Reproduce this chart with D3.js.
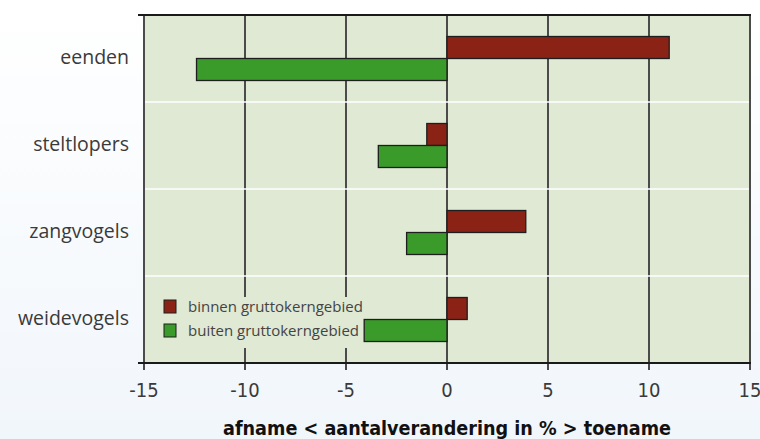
<!DOCTYPE html>
<html>
<head>
<meta charset="utf-8">
<script src="https://cdn.jsdelivr.net/npm/d3@7/dist/d3.min.js"></script>
<style>
  html, body { margin: 0; padding: 0; }
  body { width: 760px; height: 439px; overflow: hidden;
         background: linear-gradient(#ffffff, #f1f6fb); }
  .cat { font-family: "Open Sans", sans-serif; font-size: 19.5px; fill: #3a3a3a; }
  .tick-lbl { font-family: "Liberation Sans Narrow", "DejaVu Sans Condensed", sans-serif;
              font-stretch: condensed; font-size: 20px; fill: #3a3a3a; }
  .title { font-family: "Liberation Sans Narrow", "DejaVu Sans Condensed", sans-serif;
           font-stretch: condensed; font-weight: bold; font-size: 19.6px; fill: #111; }
  .leg { font-family: "Open Sans", sans-serif; font-size: 15px; fill: #444; }
</style>
</head>
<body>
<svg id="chart" width="760" height="439"></svg>
<script>
(function() {

    var categories = ['eenden', 'steltlopers', 'zangvogels', 'weidevogels'];
    var series = ['binnen gruttokerngebied', 'buiten gruttokerngebied'];
    var binnen = [11.0, -1.0, 3.9, 1.0];
    var buiten = [-12.4, -3.4, -2.0, -4.1];
    var ticks = [-15, -10, -5, 0, 5, 10, 15];
    var colors = ['#8a2316', '#3a9a2a'];

    var plot = { left: 144, right: 750, top: 15, bottom: 363 };

    var svg = d3.select('#chart');

    var x = d3.scaleLinear().domain([-15, 15]).range([plot.left, plot.right]);
    var y = d3.scaleBand().domain(categories).range([plot.top, plot.bottom]);
    var half = 22;
    var y1 = d3.scaleBand().domain(series)
        .range([y.bandwidth() / 2 - half, y.bandwidth() / 2 + half]);

    // plot background
    svg.append('rect')
        .attr('x', plot.left).attr('y', plot.top)
        .attr('width', plot.right - plot.left)
        .attr('height', plot.bottom - plot.top)
        .attr('fill', '#dfe9d4');

    // vertical grid lines
    svg.selectAll('.grid')
        .data(ticks)
        .enter()
        .append('line')
        .attr('class', 'grid')
        .attr('x1', function(d) { return x(d); })
        .attr('x2', function(d) { return x(d); })
        .attr('y1', plot.top)
        .attr('y2', plot.bottom + 7)
        .attr('stroke', '#4b4b4b')
        .attr('stroke-width', 2);

    // white band separators
    svg.selectAll('.sep')
        .data(categories.slice(1))
        .enter()
        .append('line')
        .attr('x1', plot.left + 1).attr('x2', plot.right - 1)
        .attr('y1', function(d) { return y(d); })
        .attr('y2', function(d) { return y(d); })
        .attr('stroke', '#ffffff')
        .attr('stroke-width', 1.5);

    // legend box hides grid
    svg.append('rect')
        .attr('x', 150).attr('y', 297)
        .attr('width', 212).attr('height', 51)
        .attr('fill', '#dfe9d4');

    // bars
    var rows = categories.map(function(c, i) {
        return { cat: c, vals: [binnen[i], buiten[i]] };
    });

    var g = svg.selectAll('.row')
        .data(rows)
        .enter()
        .append('g')
        .attr('transform', function(d) { return 'translate(0,' + y(d.cat) + ')'; });

    g.selectAll('rect')
        .data(function(d) {
            return d.vals.map(function(v, j) { return { s: series[j], v: v, j: j }; });
        })
        .enter()
        .append('rect')
        .attr('x', function(d) { return x(Math.min(0, d.v)); })
        .attr('width', function(d) { return Math.abs(x(d.v) - x(0)); })
        .attr('y', function(d) { return y1(d.s); })
        .attr('height', y1.bandwidth())
        .attr('fill', function(d) { return colors[d.j]; })
        .attr('stroke', '#1e1e1e')
        .attr('stroke-width', 1.3);

    // frame lines
    svg.append('line')
        .attr('x1', plot.left - 6).attr('x2', plot.right + 1)
        .attr('y1', plot.top).attr('y2', plot.top)
        .attr('stroke', '#1a1a1a').attr('stroke-width', 2);
    svg.append('line')
        .attr('x1', plot.left - 6).attr('x2', plot.right + 1)
        .attr('y1', plot.bottom).attr('y2', plot.bottom)
        .attr('stroke', '#1a1a1a').attr('stroke-width', 2);

    // category labels
    svg.selectAll('.cat')
        .data(categories)
        .enter()
        .append('text')
        .attr('class', 'cat')
        .attr('x', 129)
        .attr('y', function(d) { return y(d) + y.bandwidth() / 2 + 5; })
        .attr('text-anchor', 'end')
        .text(function(d) { return d; });

    // tick labels
    svg.selectAll('.tick-lbl')
        .data(ticks)
        .enter()
        .append('text')
        .attr('class', 'tick-lbl')
        .attr('x', function(d) { return x(d); })
        .attr('y', 397)
        .attr('text-anchor', 'middle')
        .text(function(d) { return d; });

    // axis title
    svg.append('text')
        .attr('class', 'title')
        .attr('x', x(0))
        .attr('y', 435)
        .attr('text-anchor', 'middle')
        .text('afname < aantalverandering in % > toename');

    // legend
    var leg = svg.selectAll('.legitem')
        .data(series)
        .enter()
        .append('g')
        .attr('transform', function(d, i) { return 'translate(164,' + (300 + i * 24) + ')'; });
    leg.append('rect')
        .attr('width', 12).attr('height', 13)
        .attr('fill', function(d, i) { return colors[i]; })
        .attr('stroke', '#1e1e1e').attr('stroke-width', 1);
    leg.append('text')
        .attr('class', 'leg')
        .attr('x', 24).attr('y', 12)
        .text(function(d) { return d; });

})();
</script>
</body>
</html>
